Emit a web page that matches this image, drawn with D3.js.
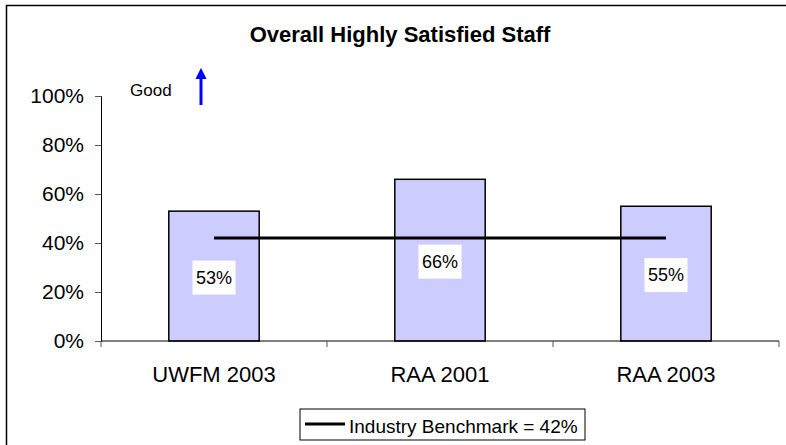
<!DOCTYPE html>
<html>
<head>
<meta charset="utf-8">
<script src="https://cdn.jsdelivr.net/npm/d3@7"></script>
<style>
    body { margin: 0; background: #fff; }
    text { font-family: 'Liberation Sans', Arial, sans-serif; fill: #000; }
</style>
</head>
<body>
<script>
const width = 786,
    height = 445;

const categories = ['UWFM 2003', 'RAA 2001', 'RAA 2003'];
const values = [53, 66, 55];
const benchmark = 42;
const y_ticks = [0, 20, 40, 60, 80, 100];

const margin = {left: 101, right: 7, top: 96, bottom: 104};

const svg = d3.select('body')
    .append('svg')
    .attr('width', width)
    .attr('height', height);

// frame (right and bottom edges fall outside the picture)
svg.append('rect')
    .attr('x', 6.5)
    .attr('y', 5.5)
    .attr('width', 800)
    .attr('height', 460)
    .attr('fill', 'none')
    .attr('stroke', '#000')
    .attr('stroke-width', 1.5);

const x = d3.scaleBand()
    .domain(categories)
    .range([margin.left, width - margin.right])
    .paddingInner(0.6)
    .paddingOuter(0.3);

const y = d3.scaleLinear()
    .domain([0, 100])
    .range([height - margin.bottom, margin.top]);

svg.append('text')
    .attr('x', 400)
    .attr('y', 42)
    .attr('text-anchor', 'middle')
    .style('font-size', '22px')
    .style('font-weight', 'bold')
    .text('Overall Highly Satisfied Staff');

// bars
svg.append('g')
    .selectAll('rect')
    .data(values)
    .enter().append('rect')
    .attr('x', (d, i) => x(categories[i]))
    .attr('y', d => y(d))
    .attr('width', x.bandwidth())
    .attr('height', d => y(0) - y(d))
    .attr('fill', '#ccccff')
    .attr('stroke', '#000')
    .attr('stroke-width', 1.5);

// y axis
const y_axis = svg.append('g')
    .attr('transform', 'translate(' + margin.left + ',0)')
    .call(d3.axisLeft(y)
        .tickValues(y_ticks)
        .tickSize(6)
        .tickPadding(11)
        .tickFormat(d => d + '%'));
y_axis.select('.domain').attr('stroke', '#000');
y_axis.selectAll('line').attr('stroke', '#555');
y_axis.selectAll('text')
    .style('font-size', '21px')
    .style('font-family', "'Liberation Sans', Arial, sans-serif");

// x axis with ticks on category boundaries
const x0 = x.range()[0];
const boundaries = d3.range(categories.length + 1).map(i => x0 + i * x.step());
const x_axis = svg.append('g');
x_axis.append('line')
    .attr('x1', x0)
    .attr('x2', x.range()[1])
    .attr('y1', y(0))
    .attr('y2', y(0))
    .attr('stroke', '#000');
x_axis.selectAll('.tick')
    .data(boundaries)
    .enter().append('line')
    .attr('x1', d => d)
    .attr('x2', d => d)
    .attr('y1', y(0))
    .attr('y2', y(0) + 6)
    .attr('stroke', '#555');
x_axis.selectAll('text')
    .data(categories)
    .enter().append('text')
    .attr('x', d => x(d) + x.bandwidth() / 2)
    .attr('y', y(0) + 41)
    .attr('text-anchor', 'middle')
    .style('font-size', '22px')
    .text(d => d);

// benchmark line
svg.append('line')
    .attr('x1', x(categories[0]) + x.bandwidth() / 2)
    .attr('x2', x(categories[categories.length - 1]) + x.bandwidth() / 2)
    .attr('y1', y(benchmark))
    .attr('y2', y(benchmark))
    .attr('stroke', '#000')
    .attr('stroke-width', 3);

// value labels
const labels = svg.append('g')
    .selectAll('g')
    .data(values)
    .enter().append('g')
    .attr('transform', (d, i) => 'translate(' + (x(categories[i]) + x.bandwidth() / 2) + ',' + ((y(d) + y(0)) / 2 + 1.5) + ')');
labels.append('rect')
    .attr('x', -21.5)
    .attr('y', -17)
    .attr('width', 43)
    .attr('height', 34)
    .attr('fill', '#fff');
labels.append('text')
    .attr('text-anchor', 'middle')
    .attr('dy', '0.35em')
    .style('font-size', '18px')
    .text(d => d + '%');

// "Good" marker
svg.append('text')
    .attr('x', 130)
    .attr('y', 96)
    .style('font-size', '17px')
    .text('Good');
svg.append('defs').append('marker')
    .attr('id', 'arrowhead')
    .attr('viewBox', '0 -5 10 10')
    .attr('refX', 0)
    .attr('refY', 0)
    .attr('orient', 'auto')
    .attr('markerWidth', 3.7)
    .attr('markerHeight', 3.7)
    .attr('markerUnits', 'strokeWidth')
    .append('path')
    .attr('d', 'M 0,-5 L 10,0 L 0,5 Z')
    .attr('fill', '#0000ff');
svg.append('line')
    .attr('x1', 201)
    .attr('x2', 201)
    .attr('y1', 105)
    .attr('y2', 79)
    .attr('stroke', '#0000ff')
    .attr('stroke-width', 3)
    .attr('marker-end', 'url(#arrowhead)');

// legend
const legend = svg.append('g').attr('transform', 'translate(300,409)');
legend.append('rect')
    .attr('x', 0)
    .attr('y', 0)
    .attr('width', 285)
    .attr('height', 31)
    .attr('fill', '#fff')
    .attr('stroke', '#000')
    .attr('stroke-width', 1);
legend.append('line')
    .attr('x1', 5)
    .attr('x2', 45)
    .attr('y1', 15)
    .attr('y2', 15)
    .attr('stroke', '#000')
    .attr('stroke-width', 3);
legend.append('text')
    .attr('x', 49)
    .attr('y', 24)
    .style('font-size', '19px')
    .text('Industry Benchmark = ' + benchmark + '%');
</script>
</body>
</html>
